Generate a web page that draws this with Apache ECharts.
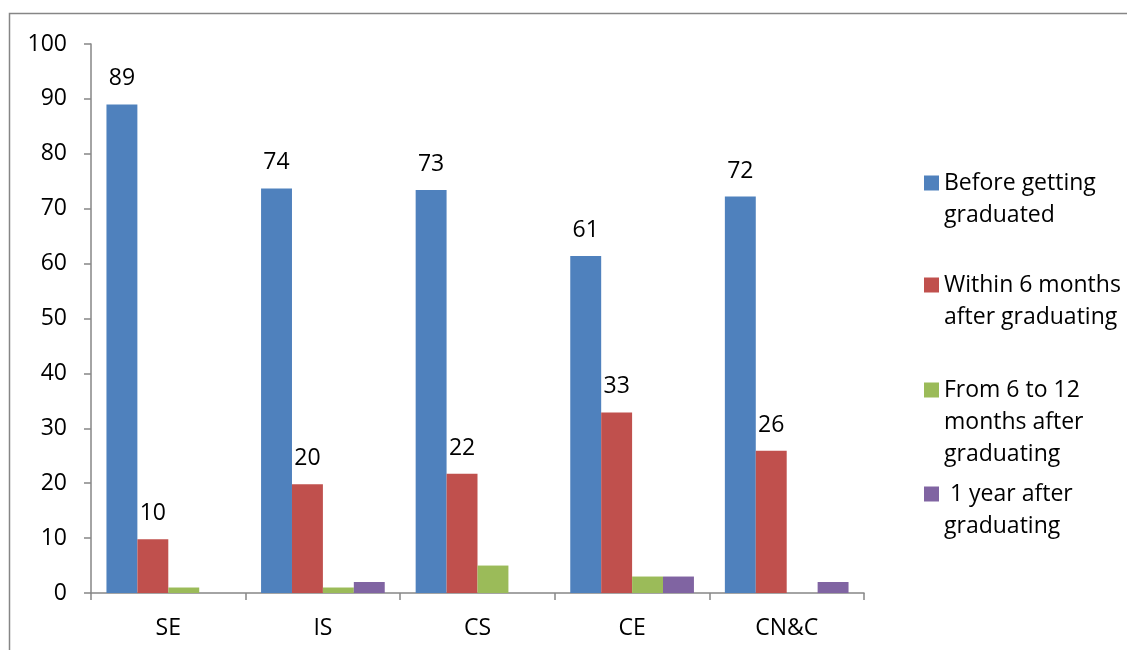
<!DOCTYPE html>
<html>
<head>
<meta charset="utf-8">
<script src="https://cdn.jsdelivr.net/npm/echarts@6/dist/echarts.min.js"></script>
<style>
html,body{margin:0;padding:0;background:#fff;}
#chart{width:1127px;height:650px;}
</style>
</head>
<body>
<div id="chart"></div>
<script>
var categories = ['SE', 'IS', 'CS', 'CE', 'CN&C'];
var seriesNames = ['Before getting\ngraduated', 'Within 6 months\nafter graduating', 'From 6 to 12\nmonths after\ngraduating', ' 1 year after\ngraduating'];
var beforeGrad = [89, 73.7, 73.4, 61.4, 72.2];
var within6 = [9.8, 19.8, 21.7, 32.9, 25.9];
var from6to12 = [1, 1, 5, 3, null];
var oneYear = [null, 2, null, 3, 2];
var yTicks = {min: 0, max: 100, interval: 10};

var colors = ['#4F81BD', '#C0504D', '#9BBB59', '#8064A2'];
var FONT = 'Open Sans';
var FS = 23;
var LH = 32;

var chart = echarts.init(document.getElementById('chart'));

function labelCfg(show) {
  return {
    show: show,
    position: 'top',
    distance: 14,
    color: '#000',
    fontFamily: FONT,
    fontSize: FS,
    formatter: function (p) { return Math.round(p.value); }
  };
}

var allData = [beforeGrad, within6, from6to12, oneYear];
var series = allData.map(function (d, i) {
  return {
    name: seriesNames[i],
    type: 'bar',
    data: d,
    barGap: '0%',
    barCategoryGap: '20%',
    itemStyle: {color: colors[i]},
    label: labelCfg(i < 2),
    emphasis: {disabled: true}
  };
});

// legend first-line centers
var legendFirstLine = [183, 285, 390, 494];
var legends = seriesNames.map(function (name, i) {
  var n = name.split('\n').length;
  var H = (2 * n - 1) * LH;
  return {
    data: [name],
    orient: 'vertical',
    left: 924,
    top: legendFirstLine[i] - H / 2,
    padding: 0,
    itemWidth: 15,
    itemHeight: 15,
    itemGap: 0,
    icon: 'rect',
    selectedMode: false,
    formatter: function (nm) {
      var pre = '';
      for (var k = 1; k < n; k++) pre += ' \n';
      return pre + nm;
    },
    textStyle: {
      fontFamily: FONT,
      fontSize: FS,
      color: '#000',
      lineHeight: LH
    }
  };
});

chart.setOption({
  animation: false,
  backgroundColor: '#fff',
  color: colors,
  textStyle: {fontFamily: FONT},
  grid: {left: 91, right: 263, top: 44, bottom: 57, containLabel: false},
  legend: legends,
  graphic: [{
    type: 'rect',
    shape: {x: 9.5, y: 13.5, width: 1300, height: 800},
    style: {fill: 'none', stroke: '#868686', lineWidth: 1.5},
    silent: true
  }],
  xAxis: {
    type: 'category',
    data: categories,
    axisLine: {show: true, lineStyle: {color: '#868686', width: 1.5}},
    axisTick: {show: true, length: 7, alignWithLabel: false, lineStyle: {color: '#868686', width: 1.5}},
    axisLabel: {color: '#000', fontFamily: FONT, fontSize: FS, margin: 24},
    splitLine: {show: false}
  },
  yAxis: {
    type: 'value',
    min: yTicks.min,
    max: yTicks.max,
    interval: yTicks.interval,
    axisLine: {show: true, lineStyle: {color: '#868686', width: 1.5}},
    axisTick: {show: true, length: 7, lineStyle: {color: '#868686', width: 1.5}},
    axisLabel: {color: '#000', fontFamily: FONT, fontSize: FS, margin: 24},
    splitLine: {show: false}
  },
  series: series
});
</script>
</body>
</html>
